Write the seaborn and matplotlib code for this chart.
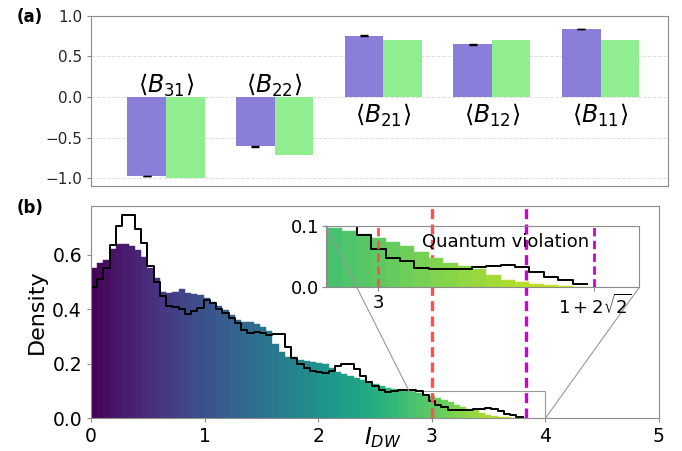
import numpy as np
import matplotlib
matplotlib.use("Agg")
import matplotlib.pyplot as plt
import pandas as pd
import seaborn as sns
from mpl_toolkits.axes_grid1.inset_locator import mark_inset

# (a) correlators: measured (purple) vs ideal (green)
labels = [r"$\langle B_{31}\rangle$", r"$\langle B_{22}\rangle$", r"$\langle B_{21}\rangle$",
          r"$\langle B_{12}\rangle$", r"$\langle B_{11}\rangle$"]
measured = [-0.97, -0.605, 0.757, 0.65, 0.836]
measured_err = [0.004, 0.005, 0.005, 0.005, 0.004]
ideal = [-1.0, -0.707, 0.707, 0.707, 0.707]

# (b) histograms of I_DW, density per bin (69 bins on [0, 3.80])
hist_lo, hist_hi, n_bins = 0.0, 3.80, 69
fill_density = [
    0.551, 0.57, 0.582, 0.621, 0.64, 0.64, 0.631, 0.616, 0.59, 0.551,
    0.515, 0.462, 0.46, 0.462, 0.474, 0.46, 0.456, 0.453, 0.441, 0.425,
    0.413, 0.396, 0.38, 0.362, 0.355, 0.354, 0.347, 0.335, 0.319, 0.273,
    0.245, 0.224, 0.224, 0.215, 0.21, 0.208, 0.204, 0.198, 0.186, 0.17,
    0.162, 0.156, 0.148, 0.141, 0.134, 0.127, 0.12, 0.113, 0.106, 0.102,
    0.099, 0.096, 0.092, 0.087, 0.080, 0.074, 0.067, 0.058, 0.047, 0.040,
    0.035, 0.029, 0.02, 0.012, 0.008, 0.006, 0.004, 0.0025, 0.0012]
line_density = [
    0.482, 0.511, 0.55, 0.637, 0.705, 0.745, 0.745, 0.696, 0.643, 0.557,
    0.499, 0.447, 0.413, 0.408, 0.40, 0.384, 0.392, 0.404, 0.435, 0.423,
    0.40, 0.388, 0.368, 0.349, 0.325, 0.313, 0.315, 0.313, 0.306, 0.31,
    0.31, 0.263, 0.22, 0.199, 0.184, 0.172, 0.169, 0.165, 0.175, 0.192,
    0.199, 0.20, 0.18, 0.156, 0.135, 0.117, 0.104, 0.098, 0.101, 0.104,
    0.105, 0.103, 0.101, 0.085, 0.062, 0.047, 0.042, 0.031, 0.030, 0.029,
    0.030, 0.033, 0.035, 0.036, 0.033, 0.025, 0.017, 0.012, 0.005]
classical_bound = 3.0
quantum_bound = 1 + 2 * np.sqrt(2)

purple = "#8A7FD8"
green = "#90EE90"
grey = "0.55"

fig = plt.figure(figsize=(6.82, 4.51), dpi=100)

# ---------- (a) ----------
ax_a = fig.add_axes([0.1334, 0.588, 0.846, 0.377])
df = pd.DataFrame({
    "label": labels * 2,
    "value": measured + ideal,
    "kind": ["measured"] * len(labels) + ["ideal"] * len(labels),
})
sns.barplot(data=df, x="label", y="value", hue="kind", palette=[purple, green],
            width=0.71, saturation=1, legend=False, ax=ax_a, zorder=2)
bars = ax_a.containers[0]
xs = [b.get_x() + b.get_width() / 2 for b in bars]
ax_a.errorbar(xs, measured, yerr=measured_err, fmt="none", ecolor="black",
              elinewidth=1, capsize=3, zorder=3)
for i, (lab, v) in enumerate(zip(labels, measured)):
    ax_a.text(i, 0.15 if v < 0 else -0.22, lab, ha="center", va="center", fontsize=17)
ax_a.set_xlim(-0.69, 4.62)
ax_a.set_ylim(-1.09, 1.0)
ax_a.set_yticks([-1.0, -0.5, 0.0, 0.5, 1.0])
ax_a.set_xticks([])
ax_a.set_xlabel("")
ax_a.set_ylabel("")
ax_a.yaxis.grid(True, ls="--", color="0.88", lw=0.7, zorder=0)
ax_a.set_axisbelow(True)
ax_a.tick_params(axis="y", labelsize=11, colors="0.15", length=3, color=grey)
for s in ax_a.spines.values():
    s.set_color(grey)

# ---------- (b) ----------
edges = np.linspace(hist_lo, hist_hi, n_bins + 1)
centers = (edges[:-1] + edges[1:]) / 2
hist_df = pd.DataFrame({"x": centers, "fill": fill_density, "line": line_density})
cmap = plt.get_cmap("viridis")


def draw_hists(ax):
    n0 = len(ax.patches)
    sns.histplot(data=hist_df, x="x", weights="fill", bins=n_bins,
                 binrange=(hist_lo, hist_hi), stat="count",
                 element="bars", fill=True, linewidth=0, alpha=1, ax=ax)
    for p, c in zip(ax.patches[n0:], centers):
        col = cmap(c / 4.0)
        p.set_facecolor(col)
        p.set_edgecolor(col)
        p.set_linewidth(0.3)
    sns.histplot(data=hist_df, x="x", weights="line", bins=n_bins,
                 binrange=(hist_lo, hist_hi), stat="count",
                 element="step", fill=False, color="black", linewidth=1.4, ax=ax)


ax_b = fig.add_axes([0.1334, 0.0725, 0.8328, 0.4714])
draw_hists(ax_b)
ax_b.axvline(classical_bound, color="#FF4F4F", ls=(0, (3, 1.6)), lw=2.4, zorder=4)
ax_b.axvline(quantum_bound, color="#D000D0", ls=(0, (3, 1.6)), lw=2.4, zorder=4)
ax_b.set_xlim(0, 5)
ax_b.set_ylim(0, 0.78)
ax_b.set_xticks([0, 1, 2, 3, 4, 5])
ax_b.set_yticks([0.0, 0.2, 0.4, 0.6])
ax_b.set_ylabel("Density", fontsize=16)
ax_b.set_xlabel(r"$I_{DW}$", fontsize=16.5)
ax_b.xaxis.set_label_coords(0.514, -0.03)
ax_b.tick_params(labelsize=13.5, length=3, color=grey)
for s in ax_b.spines.values():
    s.set_color(grey)

# inset
ax_in = fig.add_axes([0.4776, 0.363, 0.4598, 0.1366])
ax_in.set_facecolor("none")
draw_hists(ax_in)
ax_in.axvline(classical_bound, color="#FF4F4F", ls=(0, (3, 1.6)), lw=2.0, zorder=4)
ax_in.axvline(quantum_bound, color="#D000D0", ls=(0, (3, 1.6)), lw=2.0, zorder=4)
ax_in.set_xlim(2.8, 4.0)
ax_in.set_ylim(0, 0.1)
ax_in.set_xticks([classical_bound, quantum_bound])
ax_in.set_xticklabels(["3", r"$1+2\sqrt{2}$"])
ax_in.set_yticks([0.0, 0.1])
ax_in.set_xlabel("")
ax_in.set_ylabel("")
ax_in.tick_params(labelsize=13, length=3, color=grey, pad=2)
ax_in.text(3.49, 0.074, "Quantum violation", ha="center", va="center", fontsize=13)
for s in ax_in.spines.values():
    s.set_color(grey)
mark_inset(ax_b, ax_in, loc1=2, loc2=4, fc="none", ec="0.6", lw=0.8)

fig.text(0.025, 0.962, "(a)", fontsize=12, fontweight="bold", va="center")
fig.text(0.025, 0.539, "(b)", fontsize=12, fontweight="bold", va="center")

fig.savefig("out.png", dpi=100)
